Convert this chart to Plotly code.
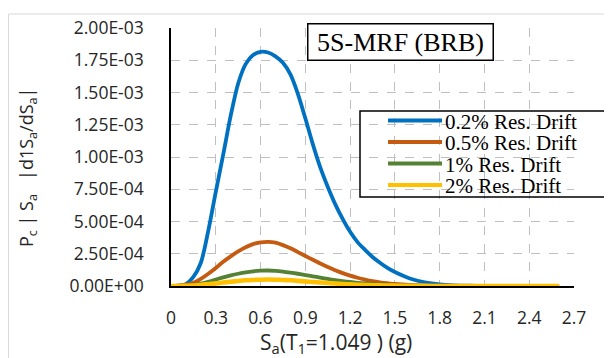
import numpy as np
import plotly.graph_objects as go

# ---------------- data ----------------
sa = [0.0, 0.05, 0.1, 0.15, 0.2, 0.25, 0.3, 0.35, 0.4, 0.45, 0.5, 0.55, 0.6, 0.65,
      0.7, 0.75, 0.8, 0.85, 0.9, 0.95, 1.0, 1.05, 1.1, 1.15, 1.2, 1.25, 1.3, 1.35,
      1.4, 1.45, 1.5, 1.6, 1.7, 1.8, 1.9, 2.0, 2.1, 2.2, 2.3, 2.4, 2.5, 2.6]

# values in units of 1e-3
drift_02_e3 = [0.0, 0.002, 0.015, 0.07, 0.18, 0.43, 0.73, 1.02, 1.32, 1.57, 1.72, 1.79,
               1.815, 1.81, 1.78, 1.73, 1.64, 1.49, 1.30, 1.10, 0.92, 0.77, 0.635, 0.52,
               0.42, 0.34, 0.28, 0.225, 0.18, 0.14, 0.108, 0.058, 0.028, 0.012, 0.005,
               0.002, 0.0007, 0.0002, 0.0, 0.0, 0.0, 0.0]
# values in units of 1e-4
drift_05_e4 = [0.0, 0.02, 0.1, 0.25, 0.55, 0.95, 1.4, 1.88, 2.3, 2.68, 3.0, 3.25, 3.38,
               3.42, 3.36, 3.17, 2.92, 2.63, 2.33, 2.03, 1.74, 1.47, 1.22, 1.0, 0.8, 0.64,
               0.5, 0.38, 0.29, 0.22, 0.16, 0.085, 0.045, 0.022, 0.01, 0.005, 0.002,
               0.001, 0.0, 0.0, 0.0, 0.0]
drift_1_e4 = [0.0, 0.005, 0.03, 0.09, 0.19, 0.33, 0.5, 0.67, 0.82, 0.95, 1.06, 1.14, 1.19,
              1.2, 1.18, 1.12, 1.04, 0.95, 0.85, 0.75, 0.65, 0.55, 0.46, 0.38, 0.31, 0.25,
              0.2, 0.16, 0.12, 0.095, 0.072, 0.04, 0.02, 0.01, 0.004, 0.002, 0.001, 0.0,
              0.0, 0.0, 0.0, 0.0]
drift_2_e4 = [0.0, 0.003, 0.015, 0.04, 0.08, 0.14, 0.2, 0.27, 0.33, 0.39, 0.44, 0.47, 0.49,
              0.5, 0.49, 0.47, 0.44, 0.4, 0.36, 0.31, 0.27, 0.23, 0.19, 0.155, 0.125, 0.1,
              0.08, 0.062, 0.048, 0.037, 0.028, 0.016, 0.008, 0.004, 0.002, 0.001, 0.0,
              0.0, 0.0, 0.0, 0.0, 0.0]

series_names = ["0.2% Res. Drift", "0.5% Res. Drift", "1% Res. Drift", "2% Res. Drift"]
series_values = [np.array(drift_02_e3) * 1e-3,
                 np.array(drift_05_e4) * 1e-4,
                 np.array(drift_1_e4) * 1e-4,
                 np.array(drift_2_e4) * 1e-4]
series_colors = ["#0070C0", "#C55A11", "#548235", "#FFC000"]
series_widths = [3.8, 3.8, 3.8, 4.6]

x_tick_vals = [0, 0.3, 0.6, 0.9, 1.2, 1.5, 1.8, 2.1, 2.4, 2.7]
x_tick_text = ["0", "0.3", "0.6", "0.9", "1.2", "1.5", "1.8", "2.1", "2.4", "2.7"]
y_tick_vals = [0, 2.5e-4, 5e-4, 7.5e-4, 1e-3, 1.25e-3, 1.5e-3, 1.75e-3, 2e-3]
y_tick_text = ["0.00E+00", "2.50E-04", "5.00E-04", "7.50E-04", "1.00E-03",
               "1.25E-03", "1.50E-03", "1.75E-03", "2.00E-03"]

chart_title = "5S-MRF (BRB)"
x_title = "S<sub>a</sub>(T<sub>1</sub>=1.049 ) (g)"
y_title = "P<sub>c</sub> | S<sub>a</sub>   |d1S<sub>a</sub>/dS<sub>a</sub>|"

# ---------------- layout geometry ----------------
# the page body has an 8px margin; all positions below are page pixels
OFF = 8
W, H = 604, 350                    # figure size (fits the 612x358 window)
PL, PR, PT, PB = 171, 574, 28, 286  # plot area in page pixels
L, T = PL - OFF, PT - OFF
R, B = W - (PR - OFF), H - (PB - OFF)
PW, PH = PR - PL, PB - PT


def px(xp):
    return (xp - PL) / PW


def py(yp):
    return (PB - yp) / PH


fig = go.Figure()
for name, vals, col, w in zip(series_names, series_values, series_colors, series_widths):
    fig.add_trace(go.Scatter(x=sa, y=vals, mode="lines", name=name,
                             line=dict(color=col, width=w, shape="spline", smoothing=0.8),
                             showlegend=False))

tick_font = dict(family="Open Sans, Liberation Sans, sans-serif", size=17.5, color="#262626")
fig.update_layout(
    width=W, height=H,
    margin=dict(l=L, r=R, t=T, b=B, autoexpand=False),
    paper_bgcolor="white", plot_bgcolor="white",
    xaxis=dict(range=[0, 2.7], tickvals=x_tick_vals, ticktext=x_tick_text,
               showline=True, linecolor="black", linewidth=1.5,
               showgrid=True, gridcolor="#BFBFBF", griddash="dash", gridwidth=1.3,
               zeroline=False, ticks="", tickfont=tick_font, ticklabelstandoff=15,
               layer="below traces"),
    yaxis=dict(range=[0, 2.0e-3], tickvals=y_tick_vals, ticktext=y_tick_text,
               showline=True, linecolor="black", linewidth=1.5,
               showgrid=True, gridcolor="#BFBFBF", griddash="dash", gridwidth=1.3,
               zeroline=False, ticks="", tickfont=tick_font, ticklabelstandoff=22,
               layer="below traces"),
)

shapes = []
annotations = []

# outer chart border (light grey, extends beyond the cropped picture)
shapes.append(dict(type="rect", xref="paper", yref="paper",
                   x0=px(8.5), x1=px(700), y0=py(420), y1=py(14),
                   line=dict(color="#D9D9D9", width=1), fillcolor="rgba(0,0,0,0)",
                   layer="below"))

# title box
annotations.append(dict(text=chart_title, xref="paper", yref="paper",
                        x=px(400), y=py(42), xanchor="center", yanchor="middle",
                        showarrow=False, bgcolor="white", bordercolor="black",
                        borderwidth=1.5, borderpad=0, width=184, height=35,
                        font=dict(family="Liberation Serif, Times New Roman, serif",
                                  size=26, color="black")))

# legend (manual, to reproduce the tight line spacing of the reference)
shapes.append(dict(type="rect", xref="paper", yref="paper",
                   x0=px(360), x1=px(700), y0=py(197), y1=py(111),
                   line=dict(color="black", width=1.5), fillcolor="rgba(0,0,0,0)"))
leg_y = [120.5, 142, 163.5, 185]
for name, col, yy in zip(series_names, series_colors, leg_y):
    shapes.append(dict(type="line", xref="paper", yref="paper",
                       x0=px(388), x1=px(442), y0=py(yy), y1=py(yy),
                       line=dict(color=col, width=4)))
    annotations.append(dict(text=name, xref="paper", yref="paper",
                            x=px(443), y=py(yy + 1), xanchor="left", yanchor="middle",
                            showarrow=False,
                            font=dict(family="Liberation Serif, Times New Roman, serif",
                                      size=21, color="black")))

# axis titles
annotations.append(dict(text=x_title, xref="paper", yref="paper",
                        x=px(336), y=py(343), xanchor="center", yanchor="middle",
                        showarrow=False,
                        font=dict(family="Open Sans, Liberation Sans, sans-serif", size=21,
                                  color="#262626")))
annotations.append(dict(text=y_title, xref="paper", yref="paper",
                        x=px(27), y=py(168), xanchor="center", yanchor="middle",
                        textangle=-90, showarrow=False,
                        font=dict(family="Open Sans, Liberation Sans, sans-serif", size=18,
                                  color="#262626")))

fig.update_layout(shapes=shapes, annotations=annotations)
fig.write_html("out.html")
